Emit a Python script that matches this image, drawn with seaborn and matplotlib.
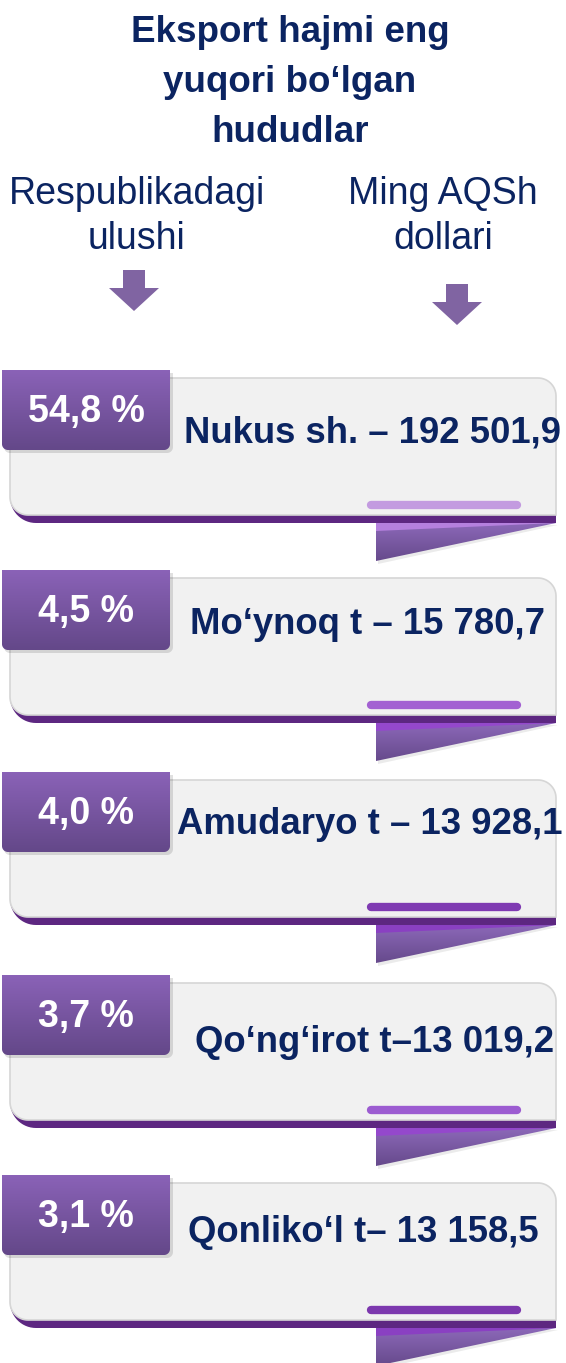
import numpy as np
import pandas as pd
import seaborn as sns
import matplotlib.pyplot as plt
from matplotlib.path import Path
from matplotlib.patches import PathPatch, Polygon
from matplotlib.colors import to_rgb

# data
regions = ["Nukus sh. – 192 501,9", "Mo‘ynoq t – 15 780,7", "Amudaryo t – 13 928,1",
           "Qo‘ng‘irot t–13 019,2", "Qonliko‘l t– 13 158,5"]
shares = ["54,8 %", "4,5 %", "4,0 %", "3,7 %", "3,1 %"]
title_lines = ["Eksport hajmi eng", "yuqori bo‘lgan", "hududlar"]
left_head = ["Respublikadagi", "ulushi"]
right_head = ["Ming AQSh", "dollari"]

# layout (pixels)
card_top = [370, 570, 772, 975, 1175]
text_dy = [63, 55, 53, 68, 58]
text_x = [373, 367, 370, 375, 363]
pill_colors = ["#c39be0", "#a361d2", "#7f3ab2", "#9c5cd1", "#7c38ae"]
strip_colors = ["#b580de", "#9448cc", "#8a40c2", "#9448cc", "#8a40c2"]

df = pd.DataFrame({"region": regions, "share": shares, "top": card_top,
                   "dy": text_dy, "tx": text_x, "pill": pill_colors, "strip": strip_colors})

sns.set_theme(style="white")
plt.rcParams["font.family"] = ["Liberation Sans", "DejaVu Sans"]

NAVY = "#0b2461"
W, H = 566, 1363
fig = plt.figure(figsize=(W / 100, H / 100), dpi=100)
ax = fig.add_axes([0, 0, 1, 1])
ax.set_xlim(0, W)
ax.set_ylim(H, 0)
ax.axis("off")


def rounded_path(x0, x1, y0, y1, r_tr=0, r_bl=0, r_br=0, r_tl=0, n=16):
    # y0 is top (small value), y1 bottom
    pts = []
    if r_tl:
        a = np.linspace(np.pi, 1.5 * np.pi, n)
        pts += list(zip(x0 + r_tl + r_tl * np.cos(a), y0 + r_tl + r_tl * np.sin(a)))
    else:
        pts.append((x0, y0))
    if r_tr:
        a = np.linspace(1.5 * np.pi, 2 * np.pi, n)
        pts += list(zip(x1 - r_tr + r_tr * np.cos(a), y0 + r_tr + r_tr * np.sin(a)))
    else:
        pts.append((x1, y0))
    if r_br:
        a = np.linspace(0, 0.5 * np.pi, n)
        pts += list(zip(x1 - r_br + r_br * np.cos(a), y1 - r_br + r_br * np.sin(a)))
    else:
        pts.append((x1, y1))
    if r_bl:
        a = np.linspace(0.5 * np.pi, np.pi, n)
        pts += list(zip(x0 + r_bl + r_bl * np.cos(a), y1 - r_bl + r_bl * np.sin(a)))
    else:
        pts.append((x0, y1))
    pts.append(pts[0])
    codes = [Path.MOVETO] + [Path.LINETO] * (len(pts) - 2) + [Path.CLOSEPOLY]
    return Path(pts, codes)


def gradient_fill(patch, x0, x1, y0, y1, c_top, c_bot, z):
    ax.add_patch(patch)
    t = np.linspace(0, 1, 64)[:, None, None]
    img = (1 - t) * np.array(to_rgb(c_top)) + t * np.array(to_rgb(c_bot))
    im = ax.imshow(img, extent=(x0, x1, y1, y0), aspect="auto", zorder=z, interpolation="bilinear")
    im.set_clip_path(patch)


# title
for i, line in enumerate(title_lines):
    ax.text(290, 33 + 50 * i, line, ha="center", va="center", fontsize=26.5,
            fontweight="bold", color=NAVY)

for i, line in enumerate(left_head):
    ax.text(137, 194 + 45 * i, line, ha="center", va="center", fontsize=27, color=NAVY)
for i, line in enumerate(right_head):
    ax.text(443, 194 + 45 * i, line, ha="center", va="center", fontsize=27, color=NAVY)

# arrows
ARROW = "#8064a2"
for cx, top in [(134, 270), (457, 284)]:
    ax.add_patch(Polygon([(cx - 11, top), (cx + 11, top), (cx + 11, top + 18), (cx + 25, top + 18),
                          (cx, top + 41), (cx - 25, top + 18), (cx - 11, top + 18)],
                         closed=True, fc=ARROW, ec="none", zorder=2))

# cards
for _, r in df.iterrows():
    t = r["top"]
    # purple band (under grey card)
    band = PathPatch(rounded_path(10, 556, t + 108, t + 153, r_bl=26), fc="#5d2781", ec="none", zorder=2)
    ax.add_patch(band)
    # fold shadow
    ax.add_patch(Polygon([(378, t + 155), (558, t + 155), (378, t + 194)], closed=True,
                         fc="#000000", alpha=0.08, ec="none", zorder=1.5))
    # fold
    fold = PathPatch(Path([(376, t + 153), (556, t + 153), (376, t + 191), (376, t + 153)],
                          [Path.MOVETO, Path.LINETO, Path.LINETO, Path.CLOSEPOLY]),
                     fc="none", ec="none", zorder=2)
    gradient_fill(fold, 376, 556, t + 153, t + 191, "#8c68b8", "#664a8c", 2.1)
    ax.add_patch(Polygon([(376, t + 153), (556, t + 153), (376, t + 161)], closed=True,
                         fc=r["strip"], ec="none", zorder=2.2))
    # grey card
    card = PathPatch(rounded_path(10, 556, t + 8, t + 145, r_tr=18, r_bl=18),
                     fc="#f1f1f1", ec="#d6d6d6", lw=1.2, zorder=3)
    ax.add_patch(card)
    # pill
    ax.plot([371, 517], [t + 135, t + 135], color=r["pill"], lw=6,
            solid_capstyle="round", zorder=4)
    # tab shadow
    ax.add_patch(PathPatch(rounded_path(4, 173, t + 3, t + 83, r_bl=6, r_br=6),
                           fc="#000000", alpha=0.12, ec="none", zorder=4.5))
    # tab
    tab = PathPatch(rounded_path(2, 170, t, t + 80, r_bl=6, r_br=6), fc="none", ec="none", zorder=5)
    gradient_fill(tab, 2, 170, t, t + 80, "#8a62b7", "#644889", 5.1)
    ax.text(86, t + 42, r["share"], ha="center", va="center", fontsize=27,
            fontweight="bold", color="white", zorder=6)
    ax.text(r["tx"], t + r["dy"], r["region"], ha="center", va="center", fontsize=26.3,
            fontweight="bold", color=NAVY, zorder=6)

fig.savefig("out.png", dpi=100)
